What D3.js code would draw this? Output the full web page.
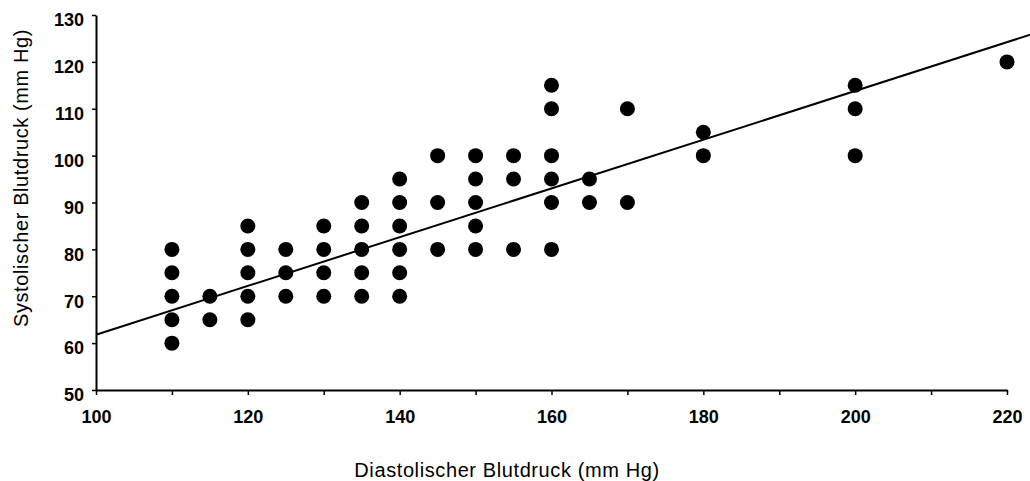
<!DOCTYPE html>
<html>
<head>
<meta charset="utf-8">
<script src="https://cdn.jsdelivr.net/npm/d3@7"></script>
<style>
  html, body { margin: 0; padding: 0; background: #fff; }
  svg { display: block; font-family: "Liberation Sans", Arial, sans-serif; }
</style>
</head>
<body>
<svg id="chart" width="1030" height="481"></svg>
<script>
// Data
const diastolic = [110,110,110,110,110, 115,115, 120,120,120,120,120, 125,125,125,
  130,130,130,130, 135,135,135,135,135, 140,140,140,140,140,140, 145,145,145,
  150,150,150,150,150, 155,155,155, 160,160,160,160,160,160, 165,165, 170,170,
  180,180, 200,200,200, 220];
const systolic = [80,75,70,65,60, 70,65, 85,80,75,70,65, 80,75,70,
  85,80,75,70, 90,85,80,75,70, 95,90,85,80,75,70, 100,90,80,
  100,95,90,85,80, 100,95,80, 115,110,100,95,90,80, 95,90, 110,90,
  105,100, 115,110,100, 120];
const xTicks = [100,110,120,130,140,150,160,170,180,190,200,210,220];
const xTickLabels = [100,120,140,160,180,200,220];
const yTicks = [50,60,70,80,90,100,110,120,130];
// Regression line endpoints (diastolic, systolic)
const trendX = [100, 225];
const trendY = [61.8, 61.8 + 0.52 * 125];
const xTitle = "Diastolischer Blutdruck (mm Hg)";
const yTitle = "Systolischer Blutdruck (mm Hg)";

const svg = d3.select("#chart");
const x = d3.scaleLinear().domain([100, 220]).range([96, 1007]);
const y = d3.scaleLinear().domain([50, 130]).range([390, 15]);

// Y axis
const yAxis = svg.append("g").attr("transform", "translate(96,0)")
  .call(d3.axisLeft(y).tickValues(yTicks).tickSize(4).tickPadding(8).tickSizeOuter(0));
yAxis.select(".domain").attr("stroke", "#000").attr("stroke-width", 2);
yAxis.selectAll(".tick line").attr("stroke", "#000").attr("stroke-width", 1.5);
yAxis.selectAll(".tick text").attr("font-family", "Liberation Sans, Arial, sans-serif")
  .attr("font-size", 18).attr("font-weight", "bold").attr("fill", "#000").attr("dy", "0.6em");

// X axis
const xAxis = svg.append("g").attr("transform", "translate(0,390)")
  .call(d3.axisBottom(x).tickValues(xTicks).tickSize(5).tickPadding(15).tickSizeOuter(0)
    .tickFormat(d => xTickLabels.includes(d) ? d : ""));
xAxis.select(".domain").attr("stroke", "#000").attr("stroke-width", 2);
xAxis.selectAll(".tick line").attr("stroke", "#000").attr("stroke-width", 1.5);
xAxis.selectAll(".tick text").attr("font-family", "Liberation Sans, Arial, sans-serif")
  .attr("font-size", 18).attr("font-weight", "bold").attr("fill", "#000");

// Points
svg.append("g").selectAll("circle")
  .data(diastolic.map((d, i) => [d, systolic[i]]))
  .join("circle")
  .attr("cx", d => x(d[0]))
  .attr("cy", d => y(d[1]))
  .attr("r", 7.5)
  .attr("fill", "#000");

// Regression line
svg.append("line")
  .attr("x1", x(trendX[0])).attr("y1", y(trendY[0]))
  .attr("x2", x(trendX[1])).attr("y2", y(trendY[1]))
  .attr("stroke", "#000").attr("stroke-width", 2);

// Titles
svg.append("text").attr("x", 507).attr("y", 477).attr("text-anchor", "middle")
  .attr("font-size", 20).attr("letter-spacing", 0.6).attr("fill", "#000").text(xTitle);
svg.append("text").attr("transform", "translate(28,178) rotate(-90)")
  .attr("text-anchor", "middle").attr("font-size", 20).attr("letter-spacing", 0.6)
  .attr("fill", "#000").text(yTitle);
</script>
</body>
</html>
